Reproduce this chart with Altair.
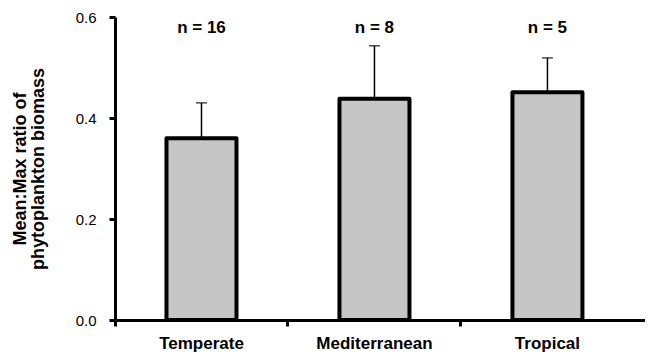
import altair as alt
import pandas as pd

categories = ["Temperate", "Mediterranean", "Tropical"]
means = [0.36, 0.438, 0.451]
errors = [0.07, 0.105, 0.068]
n_labels = ["n = 16", "n = 8", "n = 5"]

df = pd.DataFrame({
    "region": categories,
    "mean": means,
    "upper": [m + e for m, e in zip(means, errors)],
    "nlab": n_labels,
})

FONT = "Liberation Sans"

x_enc = alt.X(
    "region:N",
    sort=categories,
    scale=alt.Scale(paddingInner=0, paddingOuter=0.032, align=0),
    axis=alt.Axis(
        title=None, labelAngle=0, bandPosition=0,
        labelFont=FONT, labelFontSize=17, labelFontWeight="bold", labelColor="black",
        labelPadding=9, tickSize=6, tickWidth=3, tickColor="black",
        domainWidth=3, domainColor="black", grid=False,
    ),
)

y_scale = alt.Scale(domain=[0, 0.6], nice=False)
y_axis = alt.Axis(
    title=["Mean:Max ratio of", "phytoplankton biomass"],
    values=[0, 0.2, 0.4, 0.6], format=".1f",
    labelFont=FONT, labelFontSize=15, labelColor="black", labelPadding=13,
    tickSize=6, tickWidth=3, tickColor="black",
    domainWidth=3, domainColor="black", grid=False,
    titleFont=FONT, titleFontSize=18, titleFontWeight="bold", titleColor="black",
    titlePadding=28, titleLineHeight=18,
)

base = alt.Chart(df).encode(x=x_enc)

bars = base.mark_bar(
    size=70, fill="#c6c6c6", stroke="black", strokeWidth=4, strokeJoin="round"
).encode(y=alt.Y("mean:Q", scale=y_scale, axis=y_axis))

err = base.mark_rule(color="black", strokeWidth=1.5).encode(
    y=alt.Y("mean:Q", scale=y_scale), y2="upper:Q"
)

caps = base.mark_tick(color="black", thickness=1.5, size=11, orient="horizontal").encode(
    y=alt.Y("upper:Q", scale=y_scale)
)

ntext = base.mark_text(
    font=FONT, fontSize=17, fontWeight="bold", color="black", baseline="middle"
).encode(y=alt.datum(0.578), text="nlab:N")

chart = alt.layer(bars, err, caps, ntext).properties(
    width=530, height=303,
    autosize=alt.AutoSizeParams(type="none"),
    padding={"left": 107, "top": 9, "right": 0, "bottom": 33},
).configure_view(stroke=None)

chart.save("out.html", embed_options={"renderer": "svg", "actions": False})
